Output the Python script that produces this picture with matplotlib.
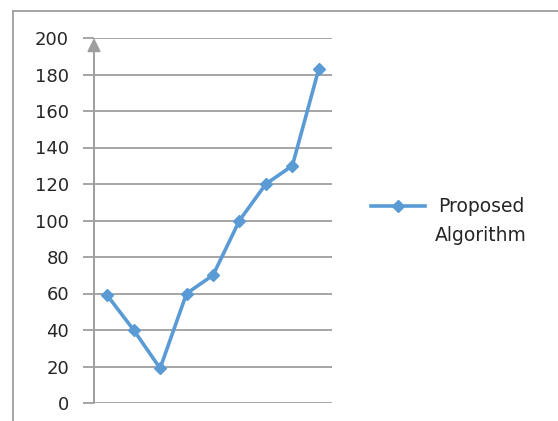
import matplotlib.pyplot as plt
from matplotlib.lines import Line2D
import numpy as np

# data series
categories = list(range(1, 10))
proposed = [59, 40, 19, 60, 70, 100, 120, 130, 183]
y_ticks = [0, 20, 40, 60, 80, 100, 120, 140, 160, 180, 200]

blue = '#5B9BD5'
grey = '#9E9E9E'

fig = plt.figure(figsize=(5.58, 4.21), dpi=100)
W, H = 558, 421
ax = fig.add_axes([94 / W, 18 / H, 238 / W, 365 / H])

x = np.arange(len(categories))
ax.plot(x, proposed, color=blue, lw=2.6, marker='D', ms=6, mec=blue, mfc=blue)

ax.set_xlim(-0.5, len(categories) - 0.5)
ax.set_ylim(0, 200)
ax.set_yticks(y_ticks)
ax.set_xticks([])
ax.yaxis.grid(True, color=grey, lw=1.3)
ax.set_axisbelow(True)
for s in ax.spines.values():
    s.set_visible(False)
ax.tick_params(axis='y', length=8, width=1.3, color=grey, pad=10,
               labelsize=13, labelcolor='#262626')

# vertical axis with arrow head
ax.annotate('', xy=(0, 1.0), xytext=(0, 0), xycoords='axes fraction',
            arrowprops=dict(arrowstyle='-|>', color=grey, lw=1.4,
                            mutation_scale=20, shrinkA=0, shrinkB=0))

# chart border (left and top)
fig.add_artist(Line2D([13 / W, 13 / W], [0, 1 - 11 / H], color=grey, lw=1.3))
fig.add_artist(Line2D([13 / W, 1], [1 - 11 / H, 1 - 11 / H], color=grey, lw=1.3))

# legend
fig.add_artist(Line2D([371 / W, 425 / W], [1 - 206 / H] * 2, color=blue, lw=2.6))
fig.add_artist(Line2D([398 / W], [1 - 206 / H], color=blue, marker='D', ms=6))
fig.text(481 / W, 1 - 221 / H, 'Proposed\nAlgorithm', ha='center', va='center',
         multialignment='center', fontsize=13.5, color='#262626', linespacing=1.7)

fig.savefig('out.png', dpi=100)
